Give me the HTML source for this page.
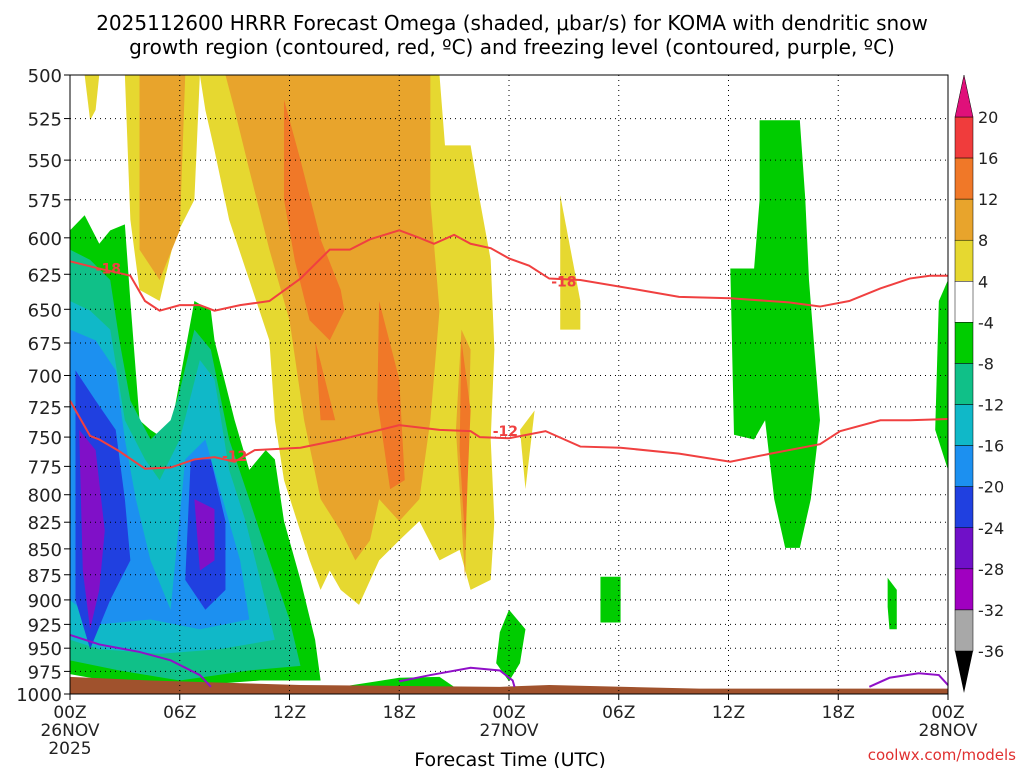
<!DOCTYPE html>
<html><head><meta charset="utf-8">
<style>
body{margin:0;background:#fff;width:1024px;height:768px;overflow:hidden;font-family:"Liberation Sans",sans-serif}
svg text{font-family:"DejaVu Sans","Liberation Sans",sans-serif}
</style></head>
<body>
<svg id="chart" width="1024" height="768" xmlns="http://www.w3.org/2000/svg">
<text x="512" y="30" font-size="20" text-anchor="middle">2025112600 HRRR Forecast Omega (shaded, μbar/s) for KOMA with dendritic snow</text>
<text x="512" y="54" font-size="20" text-anchor="middle">growth region (contoured, red, ºC) and freezing level (contoured, purple, ºC)</text>
<g id="fills"></g><g id="grid"></g><g id="lines"></g><g id="axes"></g><g id="cbar"></g>
<text x="510" y="766" font-size="19" text-anchor="middle">Forecast Time (UTC)</text>
<text x="1016" y="760" font-size="15" fill="#e03030" text-anchor="end">coolwx.com/models</text>
</svg>
<script>
const hours=[0,6,12,18,24,30,36,42,48];
const hourLabels=["00Z","06Z","12Z","18Z","00Z","06Z","12Z","18Z","00Z"];
const dateLabels={0:["26NOV","2025"],24:["27NOV"],48:["28NOV"]};
const levels=[500,525,550,575,600,625,650,675,700,725,750,775,800,825,850,875,900,925,950,975,1000];
const cbarLevels=[20,16,12,8,4,-4,-8,-12,-16,-20,-24,-28,-32,-36];
const cbarColors=["#f03c3c","#f07828","#e8a42c","#e6d830","#ffffff","#00cc00","#10c088","#10b8c8","#1c90f0","#2040e0","#7010c8","#a000c0","#a8a8a8"];
// shaded regions [hour, hPa]
const yellowRegions=[
[[7.1,500],[20.2,500],[20.5,541],[21.9,541],[22.4,575],[23.0,615],[23.2,680],[23.0,752],[23.2,824],[23.0,880],[21.9,890],[21.3,851],[20.2,861],[19.1,824],[18.0,842],[16.9,861],[15.8,905],[14.8,890],[14.2,871],[13.7,890],[13.1,861],[11.7,787],[11.2,736],[10.9,673],[9.8,629],[8.7,588],[7.9,544],[7.4,520]],
[[0.8,500],[1.6,500],[1.4,520],[1.1,526]],
[[3.0,500],[7.1,500],[6.8,575],[5.7,601],[4.9,644],[3.8,636],[3.3,588]],
[[24.6,744],[25.4,728],[24.9,795]],
[[26.8,572],[27.9,644],[27.9,665],[26.8,665]]
];
const orangeRegions=[
[[3.8,500],[6.3,500],[6.0,595],[4.9,629],[3.8,608]],
[[8.5,500],[19.7,500],[19.7,575],[20.2,651],[19.7,736],[19.1,804],[18.0,824],[16.9,804],[16.4,842],[15.6,861],[14.8,833],[13.7,804],[12.8,736],[12.0,658],[10.9,608],[9.8,556],[9.0,520]],
[[21.4,665],[21.9,680],[21.6,880],[21.1,744]]
];
const darkOrangeRegions=[
[[11.7,514],[12.6,550],[13.7,601],[14.8,636],[15.0,651],[14.2,673],[13.1,658],[12.3,616],[11.7,575]],
[[16.9,644],[18.0,703],[18.3,787],[17.5,795],[16.8,720]],
[[13.4,673],[14.5,736],[13.7,736]],
[[21.4,673],[21.9,728],[21.6,842],[21.3,761]]
];
const greenRegions=[
[[0,595],[0.8,585],[1.6,604],[2.2,595],[3.0,591],[3.3,644],[3.8,736],[4.4,744],[5.2,752],[5.7,728],[6.8,644],[7.7,651],[7.9,673],[9.0,736],[9.8,778],[10.7,761],[11.2,769],[11.7,824],[12.6,880],[13.4,941],[13.7,985],[10.4,985],[7.1,990],[2.2,986],[0,978]],
[[14.8,992],[18.0,982],[20.2,981],[21.0,992],[16.0,994]],
[[23.5,933],[24.0,910],[24.9,930],[24.6,966],[24.0,986],[23.3,966]],
[[37.7,526],[39.9,526],[40.2,575],[40.4,629],[41.0,736],[40.5,804],[39.9,849],[39.1,849],[38.5,804],[38.0,736],[37.4,752],[36.3,748],[36.1,621],[37.4,621],[37.7,575]],
[[29.0,877],[30.1,877],[30.1,923],[29.0,923]],
[[44.7,878],[45.2,890],[45.2,930],[44.8,930],[44.7,907]],
[[47.5,644],[48,629],[48,778],[47.3,744]]
];
const tealRegions=[[[0,608],[1.1,615],[2.2,629],[2.7,673],[3.3,720],[4.4,752],[5.5,736],[6.0,712],[6.8,665],[7.7,680],[8.7,752],[9.8,804],[10.9,861],[12.0,920],[12.6,969],[9.8,974],[6.0,985],[2.7,974],[0,963]]];
const cyanRegions=[[[0,644],[1.1,651],[2.2,665],[3.0,736],[4.1,769],[4.9,787],[6.0,752],[7.1,688],[7.9,703],[8.7,778],[9.6,824],[10.4,880],[11.2,941],[8.2,951],[4.9,956],[1.6,951],[0,941]]];
const blueRegions=[[[0,665],[1.4,673],[2.5,696],[3.0,752],[3.6,804],[4.4,861],[5.5,910],[6.3,769],[7.4,752],[8.5,813],[9.3,861],[9.8,920],[7.1,930],[4.4,920],[1.6,925],[0,900]]];
const darkBlueRegions=[
[[0.3,696],[1.4,720],[2.5,744],[3.0,804],[3.3,861],[2.2,900],[1.1,951],[0.3,900]],
[[6.6,769],[7.7,769],[8.5,824],[8.5,890],[7.4,910],[6.3,880]]
];
const purpleRegions=[
[[0.5,744],[1.4,761],[1.9,833],[1.6,890],[1.1,930],[0.7,871]],
[[6.8,804],[7.9,813],[7.9,861],[7.1,871]]
];
const groundTop=[[0,981],[4.4,985],[12.6,990],[23.5,992],[26.2,990],[34.4,994],[48,994]];
// contour lines
const red18Hours=[0,1.6,3.3,4.1,4.9,6.0,7.1,7.9,9.3,10.9,12.6,14.2,15.3,16.4,18.0,19.1,19.9,21.0,21.9,23.0,24.0,25.1,26.2,27.9,31.1,33.3,36.1,39.3,41.0,42.6,44.3,45.9,47.0,48];
const red18Press=[616,621,626,644,651,647,647,651,647,644,628,608,608,601,595,600,604,598,604,607,614,619,628,629,636,641,642,645,648,644,635,628,626,626];
const red12Hours=[0,1.1,1.6,2.7,4.1,5.5,6.8,7.9,9.0,10.1,12.6,14.8,16.4,18.0,20.2,21.9,22.4,24.0,26.0,27.9,30.1,33.3,36.1,38.3,41.0,42.1,44.3,45.9,48];
const red12Press=[720,749,752,762,777,776,769,767,771,761,759,752,746,740,744,745,750,751,745,758,759,764,771,764,756,745,736,736,735];
const frzLines=[
{h:[0,1.6,3.8,5.5,7.1,7.7],p:[936,946,954,963,979,992]},
{h:[18.0,19.7,21.9,23.5,24.2,24.3],p:[986,979,971,974,985,992]},
{h:[43.7,44.8,46.4,47.5,48],p:[992,982,977,979,990]}
];
const contourLabels=[{t:"-18",h:2.1,p:621},{t:"-18",h:27.0,p:630},{t:"-12",h:9.0,p:766},{t:"-12",h:23.8,p:745}];

const X0=70,X1=948,Y0=75,Y1=694;
const xs=h=>X0+(h/48)*(X1-X0);
const ys=p=>Y0+Math.log2(p/500)*(Y1-Y0);
const NS="http://www.w3.org/2000/svg";
function mk(tag,attrs,parent){const e=document.createElementNS(NS,tag);for(const k in attrs)e.setAttribute(k,attrs[k]);parent.appendChild(e);return e;}
const fills=document.getElementById('fills');
function drawRegions(arr,color,name){arr.forEach(r=>{const e=mk('polygon',{points:r.map(q=>xs(q[0])+','+ys(q[1])).join(' '),fill:color},fills);

});}
drawRegions(yellowRegions,"#e6d830","omega-4to8-region");
drawRegions(orangeRegions,"#e8a42c","omega-8to12-region");
drawRegions(darkOrangeRegions,"#f07828","omega-12to16-region");
drawRegions(greenRegions,"#00cc00","omega-neg4to8-region");
drawRegions(tealRegions,"#10c088","omega-neg8to12-region");
drawRegions(cyanRegions,"#10b8c8","omega-neg12to16-region");
drawRegions(blueRegions,"#1c90f0","omega-neg16to20-region");
drawRegions(darkBlueRegions,"#2040e0","omega-neg20to24-region");
drawRegions(purpleRegions,"#8010c8","omega-neg24to28-region");
const gpts=groundTop.map(q=>xs(q[0])+','+ys(q[1])).concat([X1+','+Y1,X0+','+Y1]);
const g=mk('polygon',{points:gpts.join(' '),fill:"#a0522d"},fills);



const grid=document.getElementById('grid');
levels.forEach(p=>{const l=mk('line',{x1:X0,x2:X1,y1:ys(p),y2:ys(p),stroke:"#000","stroke-width":1,"stroke-dasharray":"1,4"},grid);

});
hours.forEach(h=>{const l=mk('line',{x1:xs(h),x2:xs(h),y1:Y0,y2:Y1,stroke:"#000","stroke-width":1,"stroke-dasharray":"1,4"},grid);

});

const lines=document.getElementById('lines');
function poly(hs,ps,color,name){const e=mk('polyline',{points:hs.map((h,i)=>xs(h)+','+ys(ps[i])).join(' '),fill:"none",stroke:color,"stroke-width":2},lines);

}
poly(red18Hours,red18Press,"#f04040","contour-minus18");
poly(red12Hours,red12Press,"#f04040","contour-minus12");
frzLines.forEach(f=>poly(f.h,f.p,"#9010c8","freezing-level-contour"));
contourLabels.forEach(c=>{
const t=mk('text',{x:xs(c.h),y:ys(c.p)+5,"font-size":14,"font-weight":"bold",fill:"#f04040","text-anchor":"middle"},lines);t.textContent=c.t;

});

const axes=document.getElementById('axes');
mk('rect',{x:X0,y:Y0,width:X1-X0,height:Y1-Y0,fill:"none",stroke:"#000","stroke-width":1},axes);
levels.forEach(p=>{mk('line',{x1:X0-6,x2:X0,y1:ys(p),y2:ys(p),stroke:"#000"},axes);
const t=mk('text',{x:X0-8,y:ys(p)+7,"font-size":18,"text-anchor":"end",fill:"#222"},axes);t.textContent=p;

});
hours.forEach((h,i)=>{mk('line',{x1:xs(h),x2:xs(h),y1:Y1,y2:Y1+6,stroke:"#000"},axes);
const t=mk('text',{x:xs(h),y:Y1+24,"font-size":17,"text-anchor":"middle",fill:"#222"},axes);t.textContent=hourLabels[i];


(dateLabels[h]||[]).forEach((d,j)=>{const u=mk('text',{x:xs(h),y:Y1+42+j*18,"font-size":17,"text-anchor":"middle",fill:"#222"},axes);u.textContent=d;

});});

const cb=document.getElementById('cbar');
const CX=955,CW=18,CT=117,CB=651;
const cy=v=>{const i=cbarLevels.indexOf(v);return CT+i*(CB-CT)/(cbarLevels.length-1);};
for(let i=0;i<cbarColors.length;i++){const r=mk('rect',{x:CX,y:cy(cbarLevels[i]),width:CW,height:cy(cbarLevels[i+1])-cy(cbarLevels[i]),fill:cbarColors[i],stroke:"#000","stroke-width":0.5},cb);

}
const tri1=mk('polygon',{points:`${CX},${CT} ${CX+CW},${CT} ${CX+CW/2},${CT-42}`,fill:"#e0107a",stroke:"#000","stroke-width":0.5},cb);


const tri2=mk('polygon',{points:`${CX},${CB} ${CX+CW},${CB} ${CX+CW/2},${CB+42}`,fill:"#000"},cb);


cbarLevels.forEach(v=>{const t=mk('text',{x:CX+CW+5,y:cy(v)+6,"font-size":16,fill:"#222"},cb);t.textContent=v;

});
</script>
</body></html>
